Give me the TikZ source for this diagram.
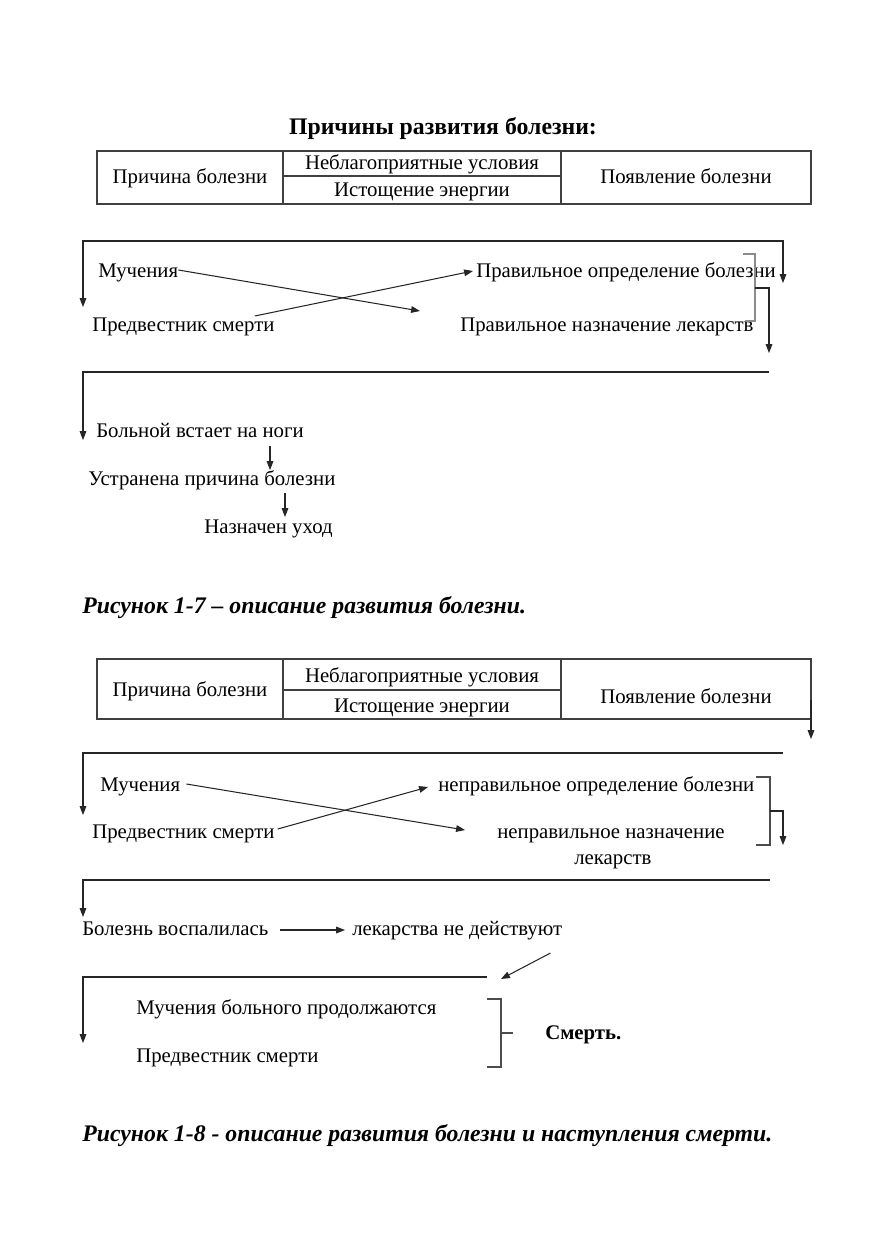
\documentclass[tikz,border=0pt]{standalone}
\usepackage{fontspec}
\setmainfont{Liberation Serif}
\usetikzlibrary{calc,arrows.meta}

\tikzset{
  txt/.style={inner sep=0pt,anchor=base west,font=\fontsize{14}{16}\selectfont},
  cell/.style={inner sep=0pt,anchor=base,font=\fontsize{14}{16}\selectfont},
  capt/.style={inner sep=0pt,anchor=base west,font=\fontsize{16}{18}\selectfont\bfseries\itshape},
  tline/.style={line width=0.7pt,color=black!75},
  arr/.style={-{Triangle[length=6pt,width=4.5pt]},line width=0.7pt,color=black!85},
  brk/.style={line width=0.7pt,color=black!45},
  brkb/.style={line width=0.7pt,color=black!70}
}

\begin{document}
\begin{tikzpicture}[x=0.6735pt,y=-0.6735pt]
		\useasboundingbox[fill=white] (0,0) rectangle (886,1255);
		% рисунок 1-7
		\node[inner sep=0pt,anchor=base,font=\fontsize{16}{18}\selectfont\bfseries] (title) at (443,134){Причины развития болезни:};
		\draw[tline] (97,151) rectangle (811,204);
		\draw[tline] (283,151) -- (283,204) (561,151) -- (561,204) (283,176) -- (561,176);
		\node[cell] (prich1) at (190,183){Причина болезни};
		\node[cell] (neblag1) at (422,169){Неблагоприятные условия};
		\node[cell] (istosh1) at (422,196){Истощение энергии};
		\node[cell] (poyav1) at (686,183){Появление болезни};
		\coordinate (tl1) at (83,241);
		\coordinate (tr1) at (783,241);
		\draw[arr,{Triangle[length=6pt,width=4.5pt]}-{Triangle[length=6pt,width=4.5pt]}] (83,307) -- (tl1) -- (tr1) -- (783,283);
		\node[txt] (muk1) at (98,277){Мучения};
		\node[txt] (pred1) at (92,331){Предвестник смерти};
		\node[txt] (opr1) at (476,277){Правильное определение болезни};
		\node[txt] (nazn1) at (460,331){Правильное назначение лекарств};
		\draw[arr] ($(muk1.base east)+(0,-7)$) -- ($(nazn1.base west)+(-40,-20)$);
		\draw[arr] ($(pred1.base east)+(-20,-15)$) -- ($(opr1.base west)+(-3,-6)$);
		\draw[brk] (743,254) -- (755,254) -- (755,321) -- (745,321);
		\draw[arr] (755,288) -- (769,288) -- (769,353);
		\draw[arr] (769,372) -- (83,372) -- (83,440);
		\node[txt] (bol) at (96,437){Больной встает на ноги};
		\node[txt] (ustr) at (88,485){Устранена причина болезни};
		\node[txt] (uhod) at (204,533){Назначен уход};
		\draw[arr] ($(bol.base west)+(174,9)$) -- ($(ustr.base west)+(182,-15)$);
		\draw[arr] ($(ustr.base west)+(197,8)$) -- ($(uhod.base west)+(81,-16)$);
		\node[capt] (cap1) at (82,613){Рисунок 1-7 – описание развития болезни.};
		% рисунок 1-8
		\draw[tline] (97,659) rectangle (811,719);
		\draw[tline] (283,659) -- (283,719) (561,659) -- (561,719) (283,690) -- (561,690);
		\node[cell] (prich2) at (190,696){Причина болезни};
		\node[cell] (neblag2) at (422,682){Неблагоприятные условия};
		\node[cell] (istosh2) at (422,712){Истощение энергии};
		\node[cell] (poyav2) at (686,703){Появление болезни};
		\draw[arr] (811,700) -- (811,739);
		\draw[arr] (783,753) -- (83,753) -- (83,815);
		\node[txt] (muk2) at (100,791){Мучения};
		\node[txt] (pred2) at (92,838){Предвестник смерти};
		\node[txt] (opr2) at (438,791){неправильное определение болезни};
		\node[txt] (nazn2) at (497,838){неправильное назначение};
		\node[txt] (lek2) at (574,864){лекарств};
		\draw[arr] ($(muk2.base east)+(6,-7)$) -- ($(nazn2.base west)+(-32,-8)$);
		\draw[arr] ($(pred2.base east)+(3,-9)$) -- ($(opr2.base west)+(-10,-4)$);
		\draw[brkb] (756,777) -- (770,777) -- (770,845) -- (756,845);
		\draw[arr] (770,811) -- (783,811) -- (783,845);
		\draw[arr] (770,880) -- (83,880) -- (83,917);
		\node[txt] (vosp) at (82,935){Болезнь воспалилась};
		\node[txt] (nedeis) at (352,935){лекарства не действуют};
		\draw[arr] ($(vosp.base east)+(11,-5)$) -- ($(nedeis.base west)+(-7,-5)$);
		\coordinate (l4end) at (487,977);
		\draw[arr] ($(nedeis.base east)+(-12,18)$) -- ($(l4end)+(14,2)$);
		\draw[arr] (l4end) -- (83,977) -- (83,1043);
		\node[txt] (mbp) at (136,1014){Мучения больного продолжаются};
		\node[txt] (pred3) at (136,1062){Предвестник смерти};
		\draw[brkb] (487,999) -- (501,999) -- (501,1067) -- (487,1067);
		\draw[brkb] (501,1033) -- (513,1033);
		\node[txt,font=\fontsize{14}{16}\selectfont\bfseries] (smert) at (545,1039){Смерть.};
		\node[capt] (cap2) at (82,1141){Рисунок 1-8 - описание развития болезни и наступления смерти.};
\end{tikzpicture}
\end{document}
